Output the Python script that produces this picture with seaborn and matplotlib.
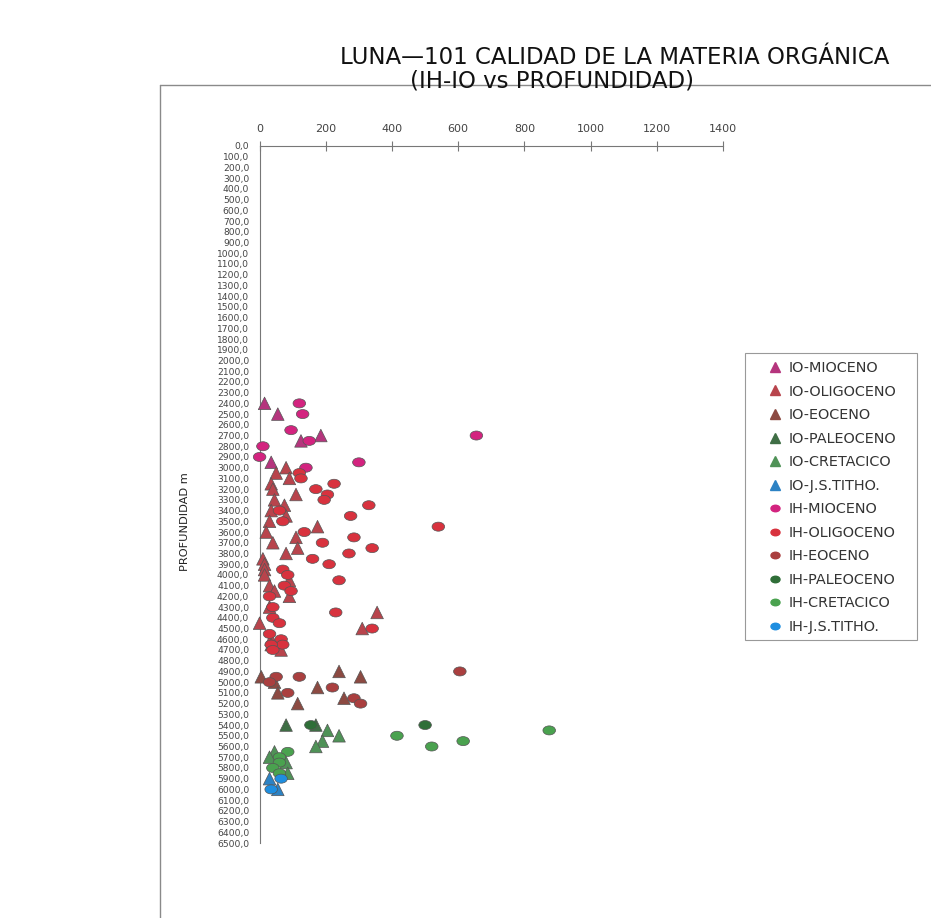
import numpy as np
import pandas as pd
import matplotlib
matplotlib.use("Agg")
import matplotlib.pyplot as plt
from matplotlib.lines import Line2D
from matplotlib.patches import Rectangle
from matplotlib.path import Path
from matplotlib.transforms import Affine2D
import seaborn as sns

# ============================================================================
# DATA  (IH / IO index vs depth)
# ============================================================================
io_mioceno_x = [15, 55, 185, 125, 35]
io_mioceno_d = [2400, 2500, 2700, 2750, 2950]
ih_mioceno_x = [120, 130, 95, 150, 10, 0, 300, 140, 655]
ih_mioceno_d = [2400, 2500, 2650, 2750, 2800, 2900, 2950, 3000, 2700]

io_oligoceno_x = [80, 50, 90, 35, 40, 110, 45, 75, 35, 80, 30, 175, 20, 110, 40, 115,
                  80, 10, 15, 15, 15, 90, 30, 45, 90, 30, 355, 0, 310, 35, 35, 65]
io_oligoceno_d = [3000, 3050, 3100, 3150, 3200, 3250, 3300, 3350, 3400, 3450, 3500, 3550,
                  3600, 3650, 3700, 3750, 3800, 3850, 3900, 3950, 4000, 4050, 4100, 4150,
                  4200, 4300, 4350, 4450, 4500, 4600, 4650, 4700]
ih_oligoceno_x = [120, 125, 225, 170, 205, 195, 330, 60, 275, 70, 540, 135, 285, 190, 340,
                  270, 160, 210, 70, 85, 240, 75, 95, 30, 40, 230, 40, 60, 340, 30, 65, 70,
                  35, 40]
ih_oligoceno_d = [3050, 3100, 3150, 3200, 3250, 3300, 3350, 3400, 3450, 3500, 3550, 3600,
                  3650, 3700, 3750, 3800, 3850, 3900, 3950, 4000, 4050, 4100, 4150, 4200,
                  4300, 4350, 4400, 4450, 4500, 4550, 4600, 4650, 4650, 4700]

io_eoceno_x = [240, 5, 305, 45, 175, 55, 255, 115]
io_eoceno_d = [4900, 4950, 4950, 5000, 5050, 5100, 5150, 5200]
ih_eoceno_x = [605, 50, 120, 30, 220, 85, 285, 305]
ih_eoceno_d = [4900, 4950, 4950, 5000, 5050, 5100, 5150, 5200]

io_paleoceno_x = [80, 170]
io_paleoceno_d = [5400, 5400]
ih_paleoceno_x = [155, 500]
ih_paleoceno_d = [5400, 5400]

io_cretacico_x = [205, 240, 190, 170, 45, 30, 80, 85]
io_cretacico_d = [5450, 5500, 5550, 5600, 5650, 5700, 5750, 5850]
ih_cretacico_x = [875, 415, 615, 520, 85, 60, 60, 40, 60]
ih_cretacico_d = [5450, 5500, 5550, 5600, 5650, 5700, 5750, 5800, 5850]

io_titho_x = [30, 55]
io_titho_d = [5900, 6000]
ih_titho_x = [65, 35]
ih_titho_d = [5900, 6000]

series_labels = ['IO-MIOCENO', 'IO-OLIGOCENO', 'IO-EOCENO', 'IO-PALEOCENO',
                 'IO-CRETACICO', 'IO-J.S.TITHO.', 'IH-MIOCENO', 'IH-OLIGOCENO',
                 'IH-EOCENO', 'IH-PALEOCENO', 'IH-CRETACICO', 'IH-J.S.TITHO.']
series_x = [io_mioceno_x, io_oligoceno_x, io_eoceno_x, io_paleoceno_x, io_cretacico_x,
            io_titho_x, ih_mioceno_x, ih_oligoceno_x, ih_eoceno_x, ih_paleoceno_x,
            ih_cretacico_x, ih_titho_x]
series_d = [io_mioceno_d, io_oligoceno_d, io_eoceno_d, io_paleoceno_d, io_cretacico_d,
            io_titho_d, ih_mioceno_d, ih_oligoceno_d, ih_eoceno_d, ih_paleoceno_d,
            ih_cretacico_d, ih_titho_d]

x_ticks = [0, 200, 400, 600, 800, 1000, 1200, 1400]
depth_ticks = np.arange(0, 6600, 100)

# ============================================================================
# STYLE
# ============================================================================
colors = ['#b5357d', '#b8444c', '#8c4a42', '#3f6e45', '#4f9257', '#2c82c4',
          '#d3237f', '#d8323e', '#aa3f3f', '#2f6e38', '#4aa24f', '#1e8ee0']
palette = dict(zip(series_labels, colors))

# scanned circles look squashed, so use an ellipse marker for IH
ellipse = Path.unit_circle().transformed(Affine2D().scale(1.0, 0.72))
markers = {lab: ('^' if lab.startswith('IO') else ellipse) for lab in series_labels}

sns.set_style("white")
plt.rcParams['font.family'] = ['DejaVu Sans']

rows = []
for lab, xs, ds in zip(series_labels, series_x, series_d):
    for x, d in zip(xs, ds):
        rows.append({'serie': lab, 'indice': x, 'profundidad': d})
df = pd.DataFrame(rows)

W, H = 931, 918
fig = plt.figure(figsize=(W / 100, H / 100), dpi=100)
ax = fig.add_axes([259.6 / W, 1 - 843 / H, 463.4 / W, 697 / H])

sns.scatterplot(data=df, x='indice', y='profundidad', hue='serie', style='serie',
                hue_order=series_labels, style_order=series_labels,
                palette=palette, markers=markers, s=82, edgecolor='#555555',
                linewidth=0.5, legend=False, ax=ax, clip_on=False, zorder=3)

ax.set_xlim(0, 1400)
ax.set_ylim(6500, 0)
ax.xaxis.tick_top()
ax.set_xticks(x_ticks)
ax.set_xticklabels([str(v) for v in x_ticks], fontsize=8, color='#444444')
ax.set_yticks(depth_ticks)
ax.set_yticklabels([f"{v:.1f}".replace('.', ',') for v in depth_ticks],
                   fontsize=6.6, color='#444444')
ax.tick_params(axis='both', direction='inout', length=7, width=0.8, color='#777777')
ax.tick_params(axis='x', pad=5)
ax.tick_params(axis='y', pad=4)
for side in ['right', 'bottom']:
    ax.spines[side].set_visible(False)
for side in ['top', 'left']:
    ax.spines[side].set_color('#777777')
    ax.spines[side].set_linewidth(0.8)
ax.set_xlabel('')
ax.set_ylabel('')
ax.patch.set_alpha(0)

fig.text(185 / W, 1 - 522 / H, 'PROFUNDIDAD m', rotation=90, ha='center', va='center',
         fontsize=8.2, color='#222222')

fig.text(615 / W, 1 - 58 / H, 'LUNA\u2014101 CALIDAD DE LA MATERIA ORG\u00c1NICA',
         ha='center', va='center', fontsize=16.5, color='#111111')
fig.text(552 / W, 1 - 81 / H, '(IH-IO vs PROFUNDIDAD)',
         ha='center', va='center', fontsize=16.5, color='#111111')

# scanned page frame
fig.add_artist(Line2D([160 / W, 1.0], [1 - 85 / H, 1 - 85 / H],
                      transform=fig.transFigure, color='#8a8a8a', lw=1))
fig.add_artist(Line2D([160 / W, 160 / W], [1 - 85 / H, 0.0],
                      transform=fig.transFigure, color='#8a8a8a', lw=1))

# legend box drawn by hand so the padding matches the scan
fig.add_artist(Rectangle((745 / W, 1 - 640 / H), 172 / W, 287 / H,
                         transform=fig.transFigure, facecolor='white',
                         edgecolor='#999999', lw=0.8, zorder=1))
handles = [Line2D([], [], linestyle='none', marker=markers[lab], markersize=6.5,
                  markerfacecolor=palette[lab], markeredgecolor=palette[lab], label=lab)
           for lab in series_labels]
leg = fig.legend(handles=handles, loc='upper left',
                 bbox_to_anchor=(768 / W, 1 - 361 / H), frameon=False,
                 fontsize=10.4, labelspacing=0.66, handlelength=1.0,
                 handletextpad=0.42, borderpad=0, borderaxespad=0)
leg.set_zorder(2)
for t in leg.get_texts():
    t.set_color('#333333')

fig.savefig('out.png', dpi=100)
